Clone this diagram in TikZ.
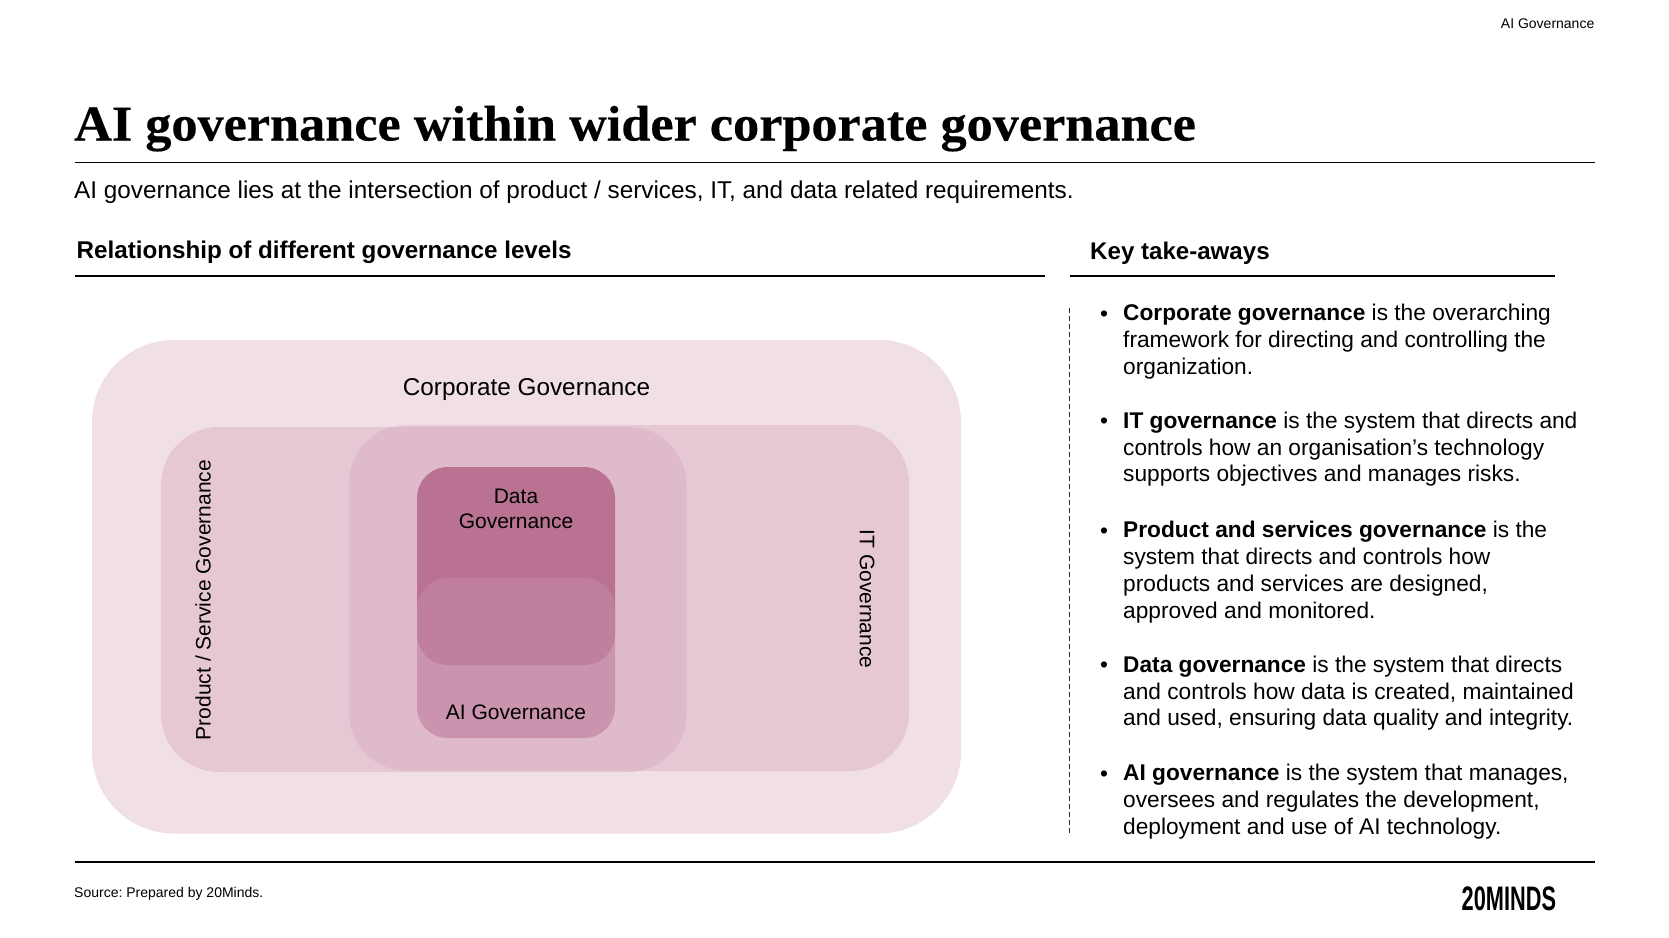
\documentclass[tikz,border=0pt]{standalone}
\usepackage{fontspec}
\setmainfont{Liberation Sans}
\newfontfamily\titlefont[FakeStretch=1.045,BoldFeatures={FakeBold=0.35}]{Liberation Serif}
\newfontfamily\logofont[FakeStretch=0.64]{Liberation Sans}
\newcommand{\fsz}[2]{\fontsize{#1}{#2}\selectfont}
\definecolor{corpc}{HTML}{F0E0E6}
\definecolor{prodc}{HTML}{E5C8D4}
\definecolor{itc}{HTML}{D8ABBE}
\definecolor{datac}{HTML}{B97291}
\definecolor{aic}{HTML}{C385A3}
\tikzset{
  blob/.style={draw=none, inner sep=0pt, shape=rectangle},
  lab/.style={inner sep=0pt, text=black},
  txt/.style={inner sep=0pt, anchor=north west, align=left, text=black, font=\fsz{22.7}{26.9}},
  bul/.style={inner sep=0pt, anchor=center, text=black, font=\fsz{22.7}{26.9}},
  thinrule/.style={draw=black, line width=1.2pt},
  headrule/.style={draw=black, line width=2pt},
}
\begin{document}
\frenchspacing
\begin{tikzpicture}[x=1pt,y=-1pt]
\useasboundingbox (0,0) rectangle (1669,937);
% blobs
\node[blob,fill=corpc,rounded corners=82pt,minimum width=869pt,minimum height=493.5pt] (corp) at (526.5,586.75) {};
\node[blob,fill=prodc,rounded corners=58pt,minimum width=525.5pt,minimum height=345pt] (prod) at (423.75,599.5) {};
\node[blob,fill=itc,fill opacity=.45,rounded corners=58pt,minimum width=560pt,minimum height=346pt] (it) at (629,598) {};
\node[blob,fill=datac,rounded corners=31pt,minimum width=198pt,minimum height=198pt] (data) at (516,566) {};
\node[blob,fill=aic,fill opacity=.7,rounded corners=31pt,minimum width=198pt,minimum height=160pt] (ai) at (516,658) {};
% blob labels
\node[lab,font=\fsz{24.3}{28}] (corpl) at (526.5,389.5) {Corporate Governance};
\node[lab,font=\fsz{21}{24.7},align=center] (datal) at (516,509) {Data\\Governance};
\node[lab,font=\fsz{21}{25}] (ail) at (516,712) {AI Governance};
\node[lab,font=\fsz{21}{25},rotate=90] (prodl) at (203,600) {Product / Service Governance};
\node[lab,font=\fsz{21}{25},rotate=-90] (itl) at (867,599) {IT Governance};
% header
\node[lab,font=\fsz{14}{16},anchor=east] (hdr) at (1594.5,24) {AI Governance};
\node[lab,font=\titlefont\bfseries\fsz{50}{54},anchor=base west] (title) at (74,140.5) {AI governance within wider corporate governance};
\coordinate (r1a) at (74.5,162.5); \coordinate (r1b) at (1594.5,162.5);
\draw[thinrule] (r1a) -- (r1b);
\node[lab,font=\fsz{24.3}{28},anchor=base west] (sub) at (74,198) {AI governance lies at the intersection of product / services, IT, and data related requirements.};
\node[lab,font=\bfseries\fsz{24.2}{28},anchor=base west] (h1) at (76.5,258.6) {Relationship of different governance levels};
\node[lab,font=\bfseries\fsz{24.1}{28},anchor=base west] (h2) at (1090,259.6) {Key take-aways};
\coordinate (r2a) at (75,275.6); \coordinate (r2b) at (1045,275.6);
\coordinate (r3a) at (1070,275.6); \coordinate (r3b) at (1555,275.6);
\draw[headrule] (r2a) -- (r2b);
\draw[headrule] (r3a) -- (r3b);
\coordinate (da) at (1069.5,307.6); \coordinate (db) at (1069.5,833.4);
\draw[black!85,line width=1pt,dash pattern=on 5pt off 3pt] (da) -- (db);
% bullets
\node[txt] (b1) at (1123,304) {\textbf{Corporate governance} is the overarching\\framework for directing and controlling the\\organization.};
\node[txt] (b2) at (1123,411.5) {\textbf{IT governance} is the system that directs and\\controls how an organisation’s technology\\supports objectives and manages risks.};
\node[txt] (b3) at (1123,521) {\textbf{Product and services governance} is the\\system that directs and controls how\\products and services are designed,\\approved and monitored.};
\node[txt] (b4) at (1123,655.5) {\textbf{Data governance} is the system that directs\\and controls how data is created, maintained\\and used, ensuring data quality and integrity.};
\node[txt] (b5) at (1123,764) {\textbf{AI governance} is the system that manages,\\oversees and regulates the development,\\deployment and use of AI technology.};
\node[bul] (d1) at (1104,316) {•};
\node[bul] (d2) at (1104,423.5) {•};
\node[bul] (d3) at (1104,533) {•};
\node[bul] (d4) at (1104,667.5) {•};
\node[bul] (d5) at (1104,776) {•};
% footer
\coordinate (r4a) at (74.5,862); \coordinate (r4b) at (1594.5,862);
\draw[thinrule] (r4a) -- (r4b);
\node[lab,font=\fsz{14}{16},anchor=base west] (src) at (74,897) {Source: Prepared by 20Minds.};
\node[lab,font=\logofont\bfseries\fsz{34}{36},anchor=base west] (logo) at (1461.5,910) {20MINDS};
\end{tikzpicture}
\end{document}
